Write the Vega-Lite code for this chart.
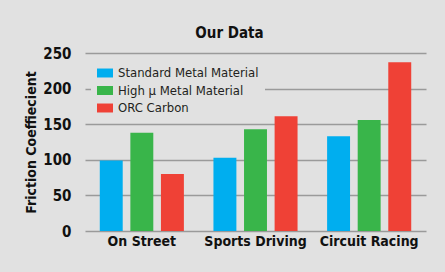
{
  "$schema": "https://vega.github.io/schema/vega-lite/v6.json",
  "autosize": {"type": "none"},
  "padding": {"left": 85, "top": 53, "right": 19, "bottom": 41},
  "width": 341,
  "height": 178,
  "background": "#e1e1e1",
  "title": {
    "text": "Our Data",
    "font": "'Noto Sans Condensed', 'DejaVu Sans Condensed', Roboto",
    "fontSize": 15,
    "fontWeight": "bold",
    "color": "#111111",
    "anchor": "middle",
    "dx": -26,
    "offset": 5
  },
  "data": {
    "values": [
      {"category": "On Street", "material": "Standard Metal Material", "value": 99},
      {"category": "On Street", "material": "High μ Metal Material", "value": 138},
      {"category": "On Street", "material": "ORC Carbon", "value": 80},
      {"category": "Sports Driving", "material": "Standard Metal Material", "value": 103},
      {"category": "Sports Driving", "material": "High μ Metal Material", "value": 143},
      {"category": "Sports Driving", "material": "ORC Carbon", "value": 161},
      {"category": "Circuit Racing", "material": "Standard Metal Material", "value": 133},
      {"category": "Circuit Racing", "material": "High μ Metal Material", "value": 156},
      {"category": "Circuit Racing", "material": "ORC Carbon", "value": 237}
    ]
  },
  "mark": {"type": "bar"},
  "encoding": {
    "x": {
      "field": "category",
      "type": "nominal",
      "sort": ["On Street", "Sports Driving", "Circuit Racing"],
      "scale": {"paddingInner": 0.26, "paddingOuter": 0.13},
      "axis": {
        "title": null,
        "labelAngle": 0,
        "labelFont": "'Noto Sans Condensed', 'DejaVu Sans Condensed', Roboto",
        "labelFontSize": 14,
        "labelFontWeight": "bold",
        "labelColor": "#111111",
        "labelPadding": 3,
        "ticks": false,
        "domain": false
      }
    },
    "xOffset": {
      "field": "material",
      "type": "nominal",
      "sort": ["Standard Metal Material", "High μ Metal Material", "ORC Carbon"],
      "scale": {"paddingInner": 0.25}
    },
    "y": {
      "field": "value",
      "type": "quantitative",
      "scale": {"domain": [0, 250], "nice": false},
      "axis": {
        "title": "Friction Coeffiecient",
        "titleFont": "'Noto Sans Condensed', 'DejaVu Sans Condensed', Roboto",
        "titleFontSize": 14,
        "titleFontWeight": "bold",
        "titleColor": "#111111",
        "titlePadding": 4,
        "values": [0, 50, 100, 150, 200, 250],
        "labelFont": "'Noto Sans Condensed', 'DejaVu Sans Condensed', Roboto",
        "labelFontSize": 15,
        "labelFontWeight": "bold",
        "labelColor": "#111111",
        "labelPadding": 14,
        "ticks": false,
        "domain": false,
        "grid": true,
        "gridColor": "#9a9a9a",
        "gridWidth": 1.5,
        "gridOpacity": 1
      }
    },
    "color": {
      "field": "material",
      "type": "nominal",
      "sort": ["Standard Metal Material", "High μ Metal Material", "ORC Carbon"],
      "scale": {"range": ["#00aeef", "#39b54a", "#ef4136"]},
      "legend": {
        "title": null,
        "orient": "none",
        "legendX": 6,
        "legendY": 6,
        "padding": 6,
        "fillColor": "#e1e1e1",
        "symbolType": "M-1,-0.56H1V0.56H-1Z",
        "symbolSize": 256,
        "symbolStrokeWidth": 0,
        "symbolOpacity": 1,
        "rowPadding": 2.5,
        "labelFont": "'Noto Sans Condensed', 'DejaVu Sans Condensed', Roboto",
        "labelFontSize": 13,
        "labelColor": "#231f20",
        "labelOffset": 5
      }
    }
  },
  "config": {
    "view": {"stroke": null}
  }
}
